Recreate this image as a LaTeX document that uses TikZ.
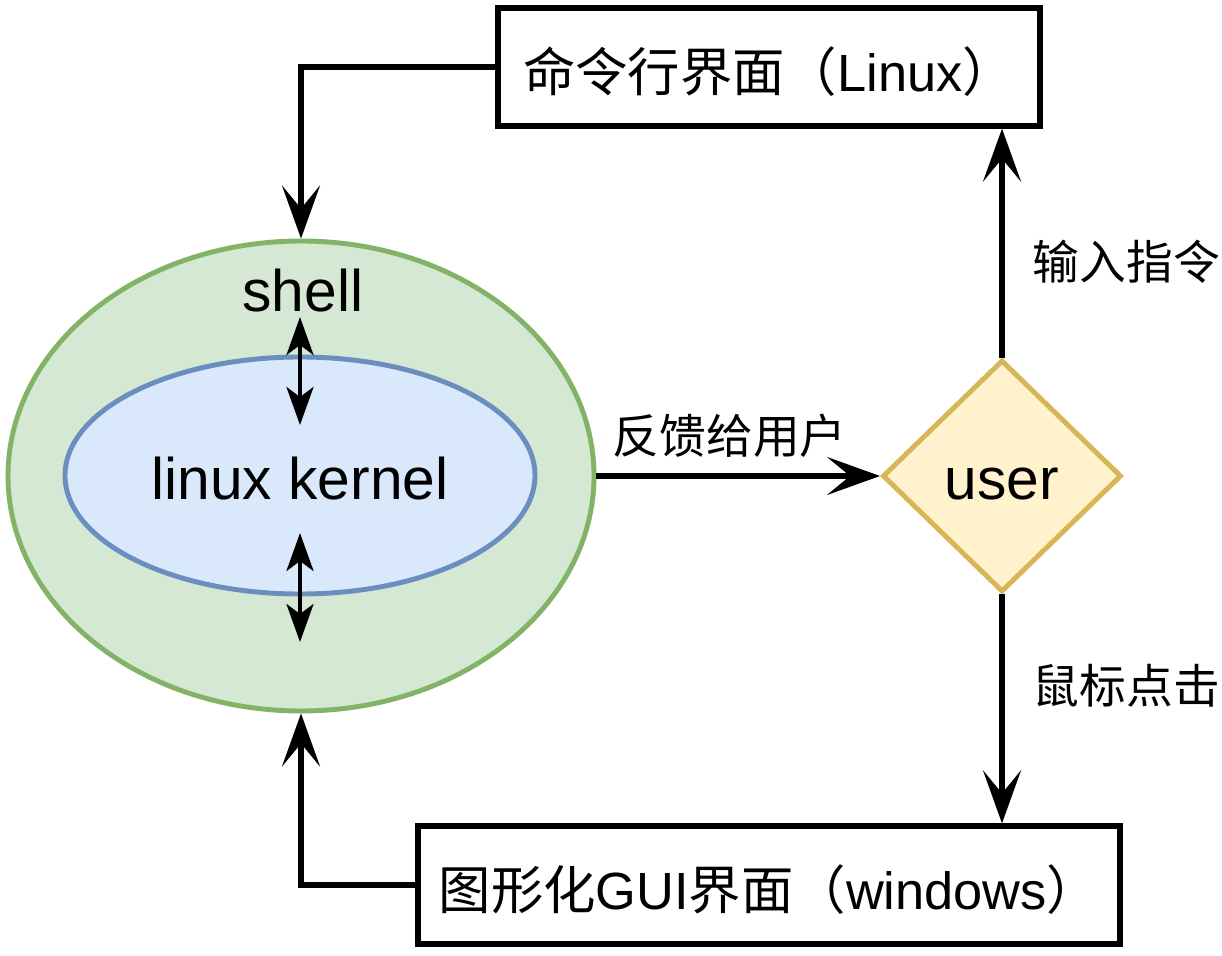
\documentclass[tikz,border=0pt]{standalone}
\usepackage{fontspec}
\setmainfont{Liberation Sans}
\newfontfamily\cjk{Noto Sans CJK SC}
\usetikzlibrary{shapes.geometric,arrows.meta}

\definecolor{shellfill}{HTML}{D5E8D4}
\definecolor{shellline}{HTML}{82B366}
\definecolor{kernfill}{HTML}{DAE8FC}
\definecolor{kernline}{HTML}{6C8EBF}
\definecolor{userfill}{HTML}{FFF2CC}
\definecolor{userline}{HTML}{D6B656}

\begin{document}
\begin{tikzpicture}[
    arr/.style={-{Stealth[length=1.06cm,width=0.76cm,inset=0.46cm]}, line width=3.2pt},
    dblarr/.style={{Stealth[length=0.76cm,width=0.54cm,inset=0.2cm]}-{Stealth[length=0.76cm,width=0.54cm,inset=0.2cm]}, line width=2.4pt},
    shapetxt/.style={font=\fontsize{33.4}{40}\selectfont, text height=34pt, text depth=6.8pt, inner sep=0pt},
    boxtxt/.style={draw, line width=3pt, minimum height=2.36cm, inner sep=0pt, text height=36pt, text depth=7.6pt, font=\fontsize{29.8}{35}\selectfont},
    edgetxt/.style={font=\cjk\fontsize{26.6}{31}\selectfont, inner sep=0pt}
]
    \useasboundingbox (0,0) rectangle (24.44,19.1);

    % shell and kernel
    \node[ellipse, draw=shellline, fill=shellfill, line width=2.8pt, minimum width=11.72cm, minimum height=9.4cm, inner sep=0pt] (shell) at (6.02,9.58) {};
    \node[ellipse, draw=kernline, fill=kernfill, line width=2.8pt, minimum width=9.4cm, minimum height=4.74cm, shapetxt] (kernel) at (6.0,9.59) {linux kernel};
    \node[shapetxt] (shelltxt) at (6.06,13.34) {shell};

    \coordinate (up1) at (6.0,12.76);
    \coordinate (up2) at (6.0,10.6);
    \coordinate (dn1) at (6.0,8.44);
    \coordinate (dn2) at (6.0,6.26);
    \draw[dblarr](up1)--(up2);
    \draw[dblarr](dn1)--(dn2);

    % user
    \node[diamond, draw=userline, fill=userfill, line width=2.8pt, minimum width=4.78cm, minimum height=4.64cm, shapetxt] (user) at (20.04,9.58) {user};

    % interfaces
    \node[boxtxt, minimum width=10.84cm] (cli) at (15.38,17.76) {{\cjk 命令行界面（}Linux{\cjk ）}};
    \node[boxtxt, minimum width=14.04cm] (gui) at (15.38,1.40) {{\cjk 图形化}GUI{\cjk 界面（}windows{\cjk ）}};

    \draw[arr](cli.west)-|(shell.north);
    \draw[arr](gui.west)-|(shell.south);
    \draw[arr](shell.east)--(user.west)node[edgetxt, pos=0.47, above=0.32cm](fbk){反馈给用户};
    \draw[arr](user.north)--(user.north|-cli.south)node[edgetxt, pos=0.42, right=0.56cm](cmd){输入指令};
    \draw[arr](user.south)--(user.south|-gui.north)node[edgetxt, pos=0.40, right=0.56cm](click){鼠标点击};
\end{tikzpicture}
\end{document}
